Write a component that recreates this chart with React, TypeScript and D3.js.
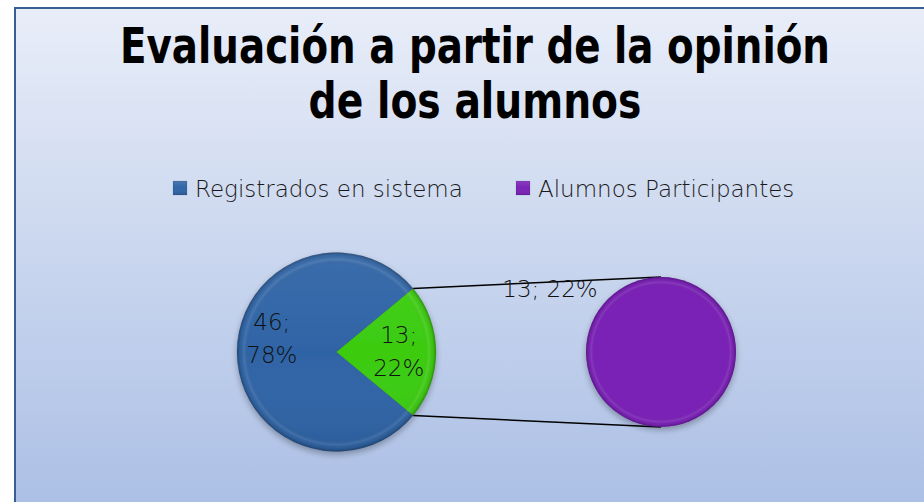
import React, { useLayoutEffect, useRef, useState } from "react";
import * as d3 from "d3";

const titleLines = ["Evaluación a partir de la opinión", "de los alumnos"];
const titleWidths = [710, 333];
const legendNames = ["Registrados en sistema", "Alumnos Participantes"];
const legendColors = ["#2f64a6", "#7a22b6"];
const mainCategories = ["Registrados en sistema", "Otro"];
const mainValues = [46, 13];
const mainPercents = ["78%", "22%"];
const mainColors = ["#2f64a6", "#3ccc10"];
const secondCategories = ["Alumnos Participantes"];
const secondValues = [13];
const secondPercents = ["22%"];
const secondColors = ["#7a22b6"];

const W = 924;
const H = 502;
const FONT = "'DejaVu Sans', sans-serif";

function Bevel({ id, r }: { id: string; r: number }) {
  return (
    <radialGradient id={id} gradientUnits="userSpaceOnUse" cx={0} cy={0} r={r}>
      <stop offset="0" stopColor="#000" stopOpacity="0" />
      <stop offset="0.88" stopColor="#000" stopOpacity="0" />
      <stop offset="0.93" stopColor="#fff" stopOpacity="0.1" />
      <stop offset="0.97" stopColor="#000" stopOpacity="0.05" />
      <stop offset="1" stopColor="#000" stopOpacity="0.28" />
    </radialGradient>
  );
}

export default function App() {
  const titleRefs = useRef<(SVGTextElement | null)[]>([]);
  const [scales, setScales] = useState<number[]>([1, 1]);
  useLayoutEffect(() => {
    const s = titleRefs.current.map((el, i) => {
      if (!el) return 1;
      const len = el.getComputedTextLength();
      return len > 0 ? titleWidths[i] / len : 1;
    });
    setScales(s);
  }, []);

  const c1 = { x: 336.5, y: 352 };
  const r1 = 99.5;
  const c2 = { x: 661, y: 352 };
  const r2 = 75;

  const total = d3.sum(mainValues);
  const otherSpan = (mainValues[1] / total) * Math.PI * 2;
  const start = Math.PI / 2 - otherSpan / 2;
  const pieMain = d3
    .pie<number>()
    .sort(null)
    .value((d) => d)
    .startAngle(start + otherSpan - Math.PI * 2)
    .endAngle(start + otherSpan);
  const mainArcs = pieMain(mainValues);
  const arcMain = d3.arc<d3.PieArcDatum<number>>().innerRadius(0).outerRadius(r1);

  const pieSecond = d3.pie<number>().sort(null).value((d) => d);
  const secondArcs = pieSecond(secondValues);
  const arcSecond = d3.arc<d3.PieArcDatum<number>>().innerRadius(0).outerRadius(r2);

  const greenArc = mainArcs[1];
  const pt = (a: number, r: number, c: { x: number; y: number }) => ({
    x: c.x + Math.sin(a) * r,
    y: c.y - Math.cos(a) * r,
  });
  const p1 = pt(greenArc.startAngle, r1, c1);
  const p2 = pt(greenArc.endAngle, r1, c1);

  const labelArc1 = d3.arc<d3.PieArcDatum<number>>().innerRadius(0).outerRadius(r1 * 1.3);
  const labelArcGreen = d3.arc<d3.PieArcDatum<number>>().innerRadius(0).outerRadius(r1 * 1.25);
  const labelDy = [-22, -9];

  return (
    <svg width={W} height={H} style={{ position: "absolute", left: 0, top: 0, display: "block" }}>
      <defs>
        <linearGradient id="bg" x1="0" y1="0" x2="0" y2="1">
          <stop offset="0" stopColor="#e8edf8" />
          <stop offset="1" stopColor="#abbfe5" />
        </linearGradient>
        <Bevel id="bevel1" r={r1} />
        <Bevel id="bevel2" r={r2} />
        <linearGradient id="shade1" gradientUnits="userSpaceOnUse" x1={0} y1={-r1} x2={0} y2={r1}>
          <stop offset="0" stopColor="#fff" stopOpacity="0.06" />
          <stop offset="0.5" stopColor="#fff" stopOpacity="0" />
          <stop offset="1" stopColor="#000" stopOpacity="0.06" />
        </linearGradient>
        <linearGradient id="shadeL" x1="0" y1="0" x2="0" y2="1">
          <stop offset="0" stopColor="#fff" stopOpacity="0.12" />
          <stop offset="0.5" stopColor="#fff" stopOpacity="0" />
          <stop offset="1" stopColor="#000" stopOpacity="0.12" />
        </linearGradient>
        <filter id="shadow" x="-20%" y="-20%" width="140%" height="140%">
          <feGaussianBlur in="SourceAlpha" stdDeviation="3" />
          <feOffset dx="0" dy="3" result="b" />
          <feComponentTransfer>
            <feFuncA type="linear" slope="0.3" />
          </feComponentTransfer>
          <feMerge>
            <feMergeNode />
            <feMergeNode in="SourceGraphic" />
          </feMerge>
        </filter>
      </defs>
      <rect x={0} y={0} width={W} height={H} fill="#ffffff" />
      <rect x={15} y={8} width={W} height={H} fill="url(#bg)" stroke="#375f93" strokeWidth={2} />

      {titleLines.map((t, i) => (
        <g key={i} transform={`translate(475,${63 + i * 55}) scale(${scales[i]},1)`}>
          <text
            ref={(el) => {
              titleRefs.current[i] = el;
            }}
            x={0}
            y={0}
            textAnchor="middle"
            fontFamily="'DejaVu Sans Condensed', 'DejaVu Sans', sans-serif"
            fontWeight="bold"
            fontSize={50}
            fill="#000"
          >
            {t}
          </text>
        </g>
      ))}

      {legendNames.map((n, i) => {
        const x = i === 0 ? 173 : 516;
        return (
          <g key={n}>
            <rect x={x} y={181} width={14} height={14} fill={legendColors[i]} />
            <rect x={x} y={181} width={14} height={14} fill="url(#shadeL)" stroke="#00000033" strokeWidth={0.5} />
            <text x={x + 22} y={197} fontFamily={FONT} fontWeight={200} fontSize={23} fill="#1a1a1a">
              {n}
            </text>
          </g>
        );
      })}

      <line x1={p1.x} y1={p1.y} x2={c2.x} y2={c2.y - r2} stroke="#000" strokeWidth={1.5} />
      <line x1={p2.x} y1={p2.y} x2={c2.x} y2={c2.y + r2} stroke="#000" strokeWidth={1.5} />

      <g transform={`translate(${c1.x},${c1.y})`} filter="url(#shadow)">
        {mainArcs.map((a, i) => (
          <path key={mainCategories[i]} d={arcMain(a) || ""} fill={mainColors[i]} />
        ))}
        {mainArcs.map((a, i) => (
          <path key={"b" + i} d={arcMain(a) || ""} fill="url(#bevel1)" stroke="#00000020" strokeWidth={0.6} />
        ))}
        <circle r={r1} fill="url(#shade1)" />
      </g>
      <g transform={`translate(${c2.x},${c2.y})`} filter="url(#shadow)">
        {secondArcs.map((a, i) => (
          <path key={secondCategories[i]} d={arcSecond(a) || ""} fill={secondColors[i]} />
        ))}
        {secondArcs.map((a, i) => (
          <path key={"b" + i} d={arcSecond(a) || ""} fill="url(#bevel2)" />
        ))}
      </g>

      {mainArcs.map((a, i) => {
        const [lx, ly] = i === 0 ? labelArc1.centroid(a) : labelArcGreen.centroid(a);
        const x = c1.x + lx;
        const y = c1.y + ly + labelDy[i];
        return (
          <text
            key={"l" + i}
            x={x}
            y={y}
            textAnchor="middle"
            fontFamily={FONT}
            fontWeight={200}
            fontSize={23}
            fill="#111"
          >
            <tspan x={x} dy={0}>{`${mainValues[i]};`}</tspan>
            <tspan x={x} dy={33}>{mainPercents[i]}</tspan>
          </text>
        );
      })}
      {secondArcs.map((a, i) => (
        <text
          key={"s" + i}
          x={c2.x - 111}
          y={c2.y - 55}
          textAnchor="middle"
          fontFamily={FONT}
          fontWeight={200}
          fontSize={23}
          fill="#111"
        >
          {`${secondValues[i]}; ${secondPercents[i]}`}
        </text>
      ))}
    </svg>
  );
}
